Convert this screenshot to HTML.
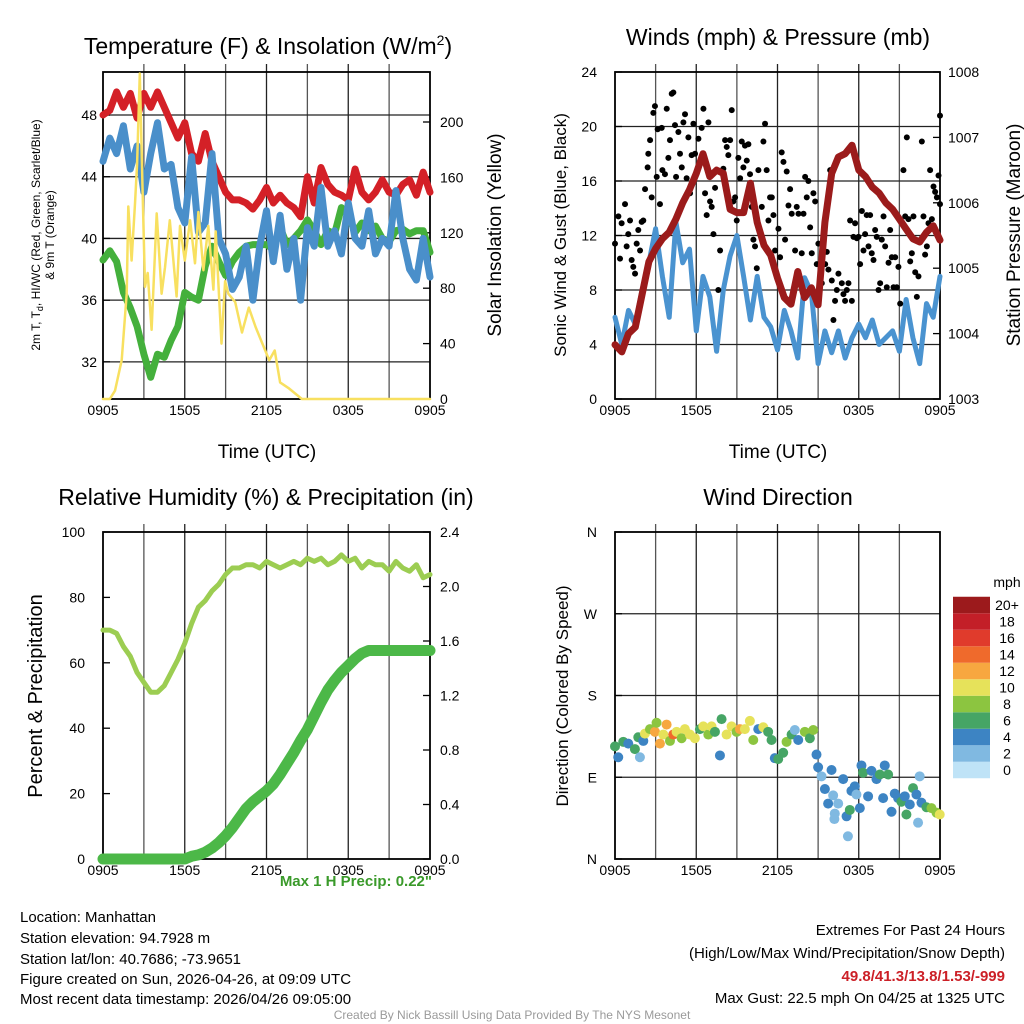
<!DOCTYPE html>
<html><head><meta charset="utf-8"><style>
html,body{margin:0;padding:0;background:#fff;}
svg{display:block;font-family:"Liberation Sans",sans-serif;}
</style></head><body>
<svg id="chart" width="1024" height="1024" viewBox="0 0 1024 1024" xmlns="http://www.w3.org/2000/svg">
<rect x="0" y="0" width="1024" height="1024" fill="#fff"/>
<text x="268" y="54" font-size="23" text-anchor="middle">Temperature (F) &amp; Insolation (W/m<tspan font-size="14" dy="-9">2</tspan><tspan dy="9">)</tspan></text>
<text x="778" y="45" font-size="23" text-anchor="middle">Winds (mph) &amp; Pressure (mb)</text>
<text x="266" y="505" font-size="23" text-anchor="middle">Relative Humidity (%) &amp; Precipitation (in)</text>
<text x="778" y="505" font-size="23" text-anchor="middle">Wind Direction</text>
<text x="267" y="458" font-size="19" text-anchor="middle">Time (UTC)</text>
<text x="778" y="458" font-size="19" text-anchor="middle">Time (UTC)</text>
<text transform="translate(40,235) rotate(-90)" font-size="12" text-anchor="middle">2m T, T<tspan font-size="9" dy="3">d</tspan><tspan dy="-3">, HI/WC (Red, Green, Scarlet/Blue)</tspan></text>
<text transform="translate(54,235) rotate(-90)" font-size="12" text-anchor="middle">&amp; 9m T (Orange)</text>
<text transform="translate(501,235) rotate(-90)" font-size="19" text-anchor="middle">Solar Insolation (Yellow)</text>
<text transform="translate(566,235) rotate(-90)" font-size="17" text-anchor="middle">Sonic Wind &amp; Gust (Blue, Black)</text>
<text transform="translate(1020,235) rotate(-90)" font-size="19" text-anchor="middle">Station Pressure (Maroon)</text>
<text transform="translate(42,696) rotate(-90)" font-size="20" text-anchor="middle">Percent &amp; Precipitation</text>
<text transform="translate(568,696) rotate(-90)" font-size="17" text-anchor="middle">Direction (Colored By Speed)</text>
<text x="432" y="886" font-size="15" font-weight="bold" fill="#3a9a2a" text-anchor="end">Max 1 H Precip: 0.22"</text>
<g font-size="15">
<text x="20" y="922">Location: Manhattan</text>
<text x="20" y="943">Station elevation: 94.7928 m</text>
<text x="20" y="964">Station lat/lon: 40.7686; -73.9651</text>
<text x="20" y="984">Figure created on Sun, 2026-04-26, at 09:09 UTC</text>
<text x="20" y="1004">Most recent data timestamp: 2026/04/26 09:05:00</text>
</g>
<g font-size="15" text-anchor="end">
<text x="1005" y="935">Extremes For Past 24 Hours</text>
<text x="1005" y="958">(High/Low/Max Wind/Precipitation/Snow Depth)</text>
<text x="1005" y="981" fill="#cc2027" font-weight="bold">49.8/41.3/13.8/1.53/-999</text>
<text x="1005" y="1003">Max Gust: 22.5 mph On 04/25 at 1325 UTC</text>
</g>
<text x="512" y="1019" font-size="12" fill="#9a9a9a" text-anchor="middle">Created By Nick Bassill Using Data Provided By The NYS Mesonet</text>
<text x="1007" y="587" font-size="14" text-anchor="middle">mph</text>
</svg>
<script>
// ---- data ----
const halfHours = [0,0.5,1,1.5,2,2.5,3,3.5,4,4.5,5,5.5,6,6.5,7,7.5,8,8.5,9,9.5,10,10.5,11,11.5,12,12.5,13,13.5,14,14.5,15,15.5,16,16.5,17,17.5,18,18.5,19,19.5,20,20.5,21,21.5,22,22.5,23,23.5,24];
const xTickLabels = ['0905','1505','2105','0305','0905'];
const tempTicks = [32,36,40,44,48];
const insolTicks = [0,40,80,120,160,200];
const windTicks = [0,4,8,12,16,20,24];
const presTicks = [1003,1004,1005,1006,1007,1008];
const rhTicks = [0,20,40,60,80,100];
const precipTicks = ['0.0','0.4','0.8','1.2','1.6','2.0','2.4'];
const dirTicks = ['N','E','S','W','N'];
const redTemp = [48,48.3,49.5,48.5,49.4,47.8,49.4,48.5,49.5,48.5,47.5,46.5,47.5,45.5,45,46.8,45,44,43,42.5,42.5,42.3,41.9,42.5,43.3,42.3,42.8,42.3,42,41.4,44,42.3,44.6,43.5,43,42.8,42.5,44.5,43,42.5,43,43.8,43,42.8,43.5,43.8,42.8,44.3,43];
const greenDew = [38.6,39.2,38.5,36.5,35.5,34.3,32.5,31,32.5,32.3,33.4,34.3,36.5,36.2,36,38.2,39.5,38.5,37.6,38.5,39.1,39.5,39.6,39.6,39.6,39.3,40.7,39.6,40,40.5,41.2,40.5,39.6,40.5,40.3,42,41.5,40.4,41,40.5,40.8,40,39.8,40.5,40.6,40.3,40.5,40.5,39.1];
const blueChill = [45,46.5,45.5,47.3,44.5,46,43,45.5,47.5,44.5,44.8,42,41,45.3,40.4,41,45.5,40,39,36.7,37.5,39.5,36,39.5,41.8,38.5,41.5,38,40,36,40.7,39.5,43.3,39.5,40.5,39,42.3,40,39.5,41.8,39,40,39.5,43.1,40,38,37.3,40,37.5];
const insolHours = [0,0.5,0.88,1.37,1.74,1.86,2.1,2.35,2.5,2.7,2.9,3.08,3.28,3.57,3.94,4.3,4.55,4.9,5.4,5.65,6.0,6.39,6.75,7.0,7.37,7.73,8.1,8.27,8.7,8.96,9.2,9.7,10.2,10.7,11.2,11.7,12.2,12.6,13.0,13.6,14.6,24];
const insolValues = [0,0,6,28,76,139,100,141,170,235,153,81,91,50,134,76,95,129,74,125,100,129,98,135,93,125,79,121,40,85,76,70,48,66,52,40,28,35,12,8,0,0];
const windSpeed = [6,4,6.5,5.5,8,10,12.5,9,6,13,10,11,5,9,7.5,3.5,8,10.5,12,9,5.8,9,6,5.3,3.6,6.5,5,3,8.9,7.8,2.6,5,3.4,5,3,4.5,5.5,4.5,5.8,4,4.5,5,3.5,7.3,4.5,2.6,7,6,9];
const pressure = [1003.83,1003.72,1004.0,1004.1,1004.6,1005.1,1005.3,1005.45,1005.55,1005.75,1006.0,1006.2,1006.45,1006.75,1006.4,1006.5,1006.45,1005.9,1005.85,1005.85,1006.3,1005.7,1005.35,1005.2,1004.85,1004.55,1004.45,1004.95,1004.55,1004.7,1004.44,1005.7,1006.45,1006.7,1006.75,1006.88,1006.5,1006.4,1006.24,1006.15,1006.0,1005.9,1005.75,1005.6,1005.45,1005.4,1005.55,1005.65,1005.43];
const gustHours = [0,0.25,0.37,0.49,0.74,0.86,0.98,1.11,1.23,1.35,1.48,1.6,1.72,1.85,1.97,2.09,2.22,2.41,2.46,2.59,2.71,2.83,2.95,3.08,3.15,3.32,3.45,3.5,3.69,3.82,3.94,4.06,4.19,4.31,4.43,4.51,4.68,4.8,4.93,5.05,5.17,5.29,5.42,5.54,5.66,5.79,5.91,6.16,6.4,6.53,6.65,6.77,6.9,7.02,7.14,7.27,7.39,7.63,7.76,8.0,8.13,8.25,8.37,8.5,8.62,8.74,8.87,8.99,9.11,9.24,9.36,9.48,9.6,9.73,9.85,9.97,10.1,10.22,10.34,10.47,10.59,10.84,10.96,11.08,11.2,11.33,11.45,11.58,11.7,11.82,12.07,12.19,12.31,12.44,12.56,12.68,12.81,12.93,13.05,13.3,13.42,13.55,13.79,13.92,14.04,14.16,14.28,14.41,14.53,14.65,14.78,14.9,15.02,15.27,15.52,15.64,15.76,15.89,16.01,16.13,16.25,16.38,16.5,16.75,16.87,16.99,17.12,17.24,17.36,17.49,17.61,17.73,17.86,17.98,18.1,18.23,18.35,18.47,18.59,18.72,18.84,18.96,19.09,19.21,19.33,19.46,19.58,19.7,19.83,19.95,20.07,20.2,20.32,20.44,20.57,20.69,20.81,20.93,21.06,21.3,21.43,21.55,21.67,21.8,21.92,22.04,22.17,22.29,22.41,22.66,22.78,22.9,23.03,23.15,23.27,23.4,23.52,23.64,23.77,23.89,24.0,24.0];
const gustValues = [11.4,13.4,10.3,12.9,14.3,11.2,12.1,13.1,10.2,9.7,9.2,11.4,12.4,10.9,13.0,13.1,15.4,17.0,18.0,19.0,14.8,21.0,21.5,16.3,19.8,14.3,19.9,16.8,16.5,21.3,17.7,19.0,22.4,22.5,20.1,16.3,19.6,18.0,17.0,20.3,20.9,16.2,19.2,15.1,17.9,20.2,18.0,19.1,19.9,21.3,15.1,13.5,20.3,14.5,14.1,12.1,15.5,8.0,10.9,16.9,19.0,18.5,17.9,19.0,21.2,14.5,14.8,13.1,17.7,16.2,18.9,17.0,18.6,17.5,18.7,16.5,14.1,11.7,11.2,9.6,16.8,14.1,18.9,20.2,16.8,13.1,14.8,14.8,13.5,10.9,12.5,10.4,18.1,17.4,11.7,16.7,14.2,15.4,13.6,10.9,14.1,13.6,10.7,13.6,16.3,14.8,16.0,12.6,10.7,15.1,14.5,9.9,11.4,8.5,9.9,10.8,9.5,16.8,8.7,5.8,7.2,8.0,9.2,8.5,7.7,7.2,8.0,8.5,13.1,7.2,11.9,12.9,11.8,11.9,9.9,13.8,10.9,12.1,13.5,11.2,13.5,10.7,10.2,12.4,11.9,8.0,8.5,11.7,13.4,11.2,8.2,10.0,12.4,10.4,8.2,10.4,8.2,9.7,7.0,16.8,13.4,19.2,13.2,10.1,10.7,13.4,9.3,7.5,9.0,18.9,13.4,10.6,11.2,12.9,16.8,13.2,15.6,15.2,14.8,16.4,20.8,14.3];
const relHum = [70,70,69,65,62,57,54,51,51,53,57,61,66,72,77,79,82,84,87,89,89,90,90,89,91,90,89,90,91,90,92,91,92,90,91,93,91,92,89,91,90,90,88,91,89,88,90,86,87];
const precip = [0,0,0,0,0,0,0,0,0,0,0,0,0,0.02,0.03,0.05,0.08,0.12,0.17,0.23,0.3,0.37,0.42,0.46,0.5,0.55,0.62,0.7,0.78,0.87,0.95,1.05,1.15,1.24,1.31,1.37,1.42,1.47,1.51,1.53,1.53,1.53,1.53,1.53,1.53,1.53,1.53,1.53,1.53];
const dirHours = [0,0.24,0.61,0.98,1.47,1.72,1.84,2.09,2.21,2.58,2.95,3.07,3.32,3.57,3.81,4.06,4.3,4.55,4.92,5.16,5.53,5.9,6.27,6.52,6.89,7.13,7.38,7.75,7.87,8.24,8.61,8.98,9.22,9.59,9.96,10.21,10.58,10.95,11.31,11.56,11.8,12.05,12.42,12.67,13.04,13.28,13.53,14.02,14.39,14.64,14.88,15.0,15.25,15.5,15.74,15.99,16.11,16.23,16.48,16.85,17.1,17.34,17.46,17.71,17.83,18.08,18.2,18.32,18.69,18.94,19.31,19.56,19.8,19.92,20.17,20.42,20.66,20.91,21.15,21.4,21.52,21.77,22.01,22.26,22.38,22.5,22.63,23.0,23.37,23.74,23.98,17.2,16.2];
const dirDegrees = [124,112,129,127,121,134,112,130,138,143,140,150,127,137,148,130,137,140,133,143,137,133,143,146,137,146,140,114,154,137,146,140,143,143,152,131,143,145,140,131,111,110,117,129,137,142,131,140,133,142,115,101,91,77,61,98,70,50,61,88,47,54,75,80,71,56,103,95,69,97,88,93,67,103,93,52,72,67,63,69,49,60,78,71,40,91,62,57,56,51,49,25,44];
const dirSpeed = [6,4,6,4,6,7,2,4,10,8,12,8,12,10,12,8,15,10,8,10,10,10,6,10,8,10,6,4,6,10,10,8,12,10,10,8,4,10,7,6,4,6,7,8,6,3,4,8,6,8,4,4,2,4,4,4,2,2,2,4,4,6,4,4,2,4,4,6,4,4,4,6,4,4,6,4,4,4,6,4,7,4,6,4,2,2,4,7,8,8,10,2,2];
const speedLabels = ['0','2','4','6','8','10','12','14','16','18','20+'];
const speedColors = ['#bfe3f7','#80b9e1','#3d84c3','#46a565','#8cc540','#e6e25a','#f7a740','#ef6a2c','#e03b2c','#c31f28','#9c1a1c'];

// ---- helpers ----
const NS='http://www.w3.org/2000/svg';
const svg=document.getElementById('chart');
function mk(tag, attrs, parent){const e=document.createElementNS(NS,tag);for(const k in attrs)e.setAttribute(k,attrs[k]);(parent||svg).appendChild(e);return e;}
const P1={x0:103,x1:430,y0:72,y1:399}, P2={x0:615,x1:940,y0:72,y1:399}, P3={x0:103,x1:430,y0:532,y1:859}, P4={x0:615,x1:940,y0:532,y1:859};
function xs(P,t){return P.x0+t/24*(P.x1-P.x0);}
const yTemp=v=>115+(48-v)*15.43;
const yInsol=v=>399-v*55.4/40;
const yWind=v=>399-v*13.625;
const yPres=v=>399-(v-1003)*65.4;
const yRH=v=>859-v*3.27;
const yPrecip=v=>859-v/2.4*327;
const yDir=v=>859-v/360*327;

function frame(P,name,hGrid,labelsL,labelsR,lx,rx){
  const g=mk('g',{});
  
  
  for(let i=1;i<8;i++){const x=P.x0+i*(P.x1-P.x0)/8;
    const l=mk('line',{x1:x,x2:x,y1:P.y0-8,y2:P.y1,stroke:(i%2?'#555':'#222'),'stroke-width':1.3},g);
    
    }
  hGrid.forEach(y=>{const l=mk('line',{x1:P.x0,x2:P.x1,y1:y,y2:y,stroke:'#222','stroke-width':1.3},g);
    
    });
  const r=mk('rect',{x:P.x0,y:P.y0,width:P.x1-P.x0,height:P.y1-P.y0,fill:'none',stroke:'#000','stroke-width':1.8},g);
  
  
  xTickLabels.forEach((s,i)=>{const t=mk('text',{x:P.x0+i*(P.x1-P.x0)/4,y:P.y1+16,'font-size':14,'text-anchor':'middle'},g);t.textContent=s;
    
    });
  labelsL.forEach(([s,y])=>{const t=mk('text',{x:lx,y:y+5,'font-size':14,'text-anchor':'end'},g);t.textContent=s;
    
    
    const k=mk('line',{x1:P.x0,x2:P.x0+7,y1:y,y2:y,stroke:'#000','stroke-width':1.3},g);
    
    });
  labelsR.forEach(([s,y])=>{const t=mk('text',{x:rx,y:y+5,'font-size':14,'text-anchor':'start'},g);t.textContent=s;
    
    
    const k=mk('line',{x1:P.x1-7,x2:P.x1,y1:y,y2:y,stroke:'#000','stroke-width':1.3},g);
    
    });
}
function line(P,ts,vs,yf,color,w,name){
  const d=ts.map((t,i)=>(i?'L':'M')+xs(P,t).toFixed(1)+','+yf(vs[i]).toFixed(1)).join('');
  const p=mk('path',{d:d,fill:'none',stroke:color,'stroke-width':w,'stroke-linejoin':'round','stroke-linecap':'round'});
  
  
}

// panel 1
frame(P1,'temperature',tempTicks.map(yTemp),tempTicks.map(v=>[String(v),yTemp(v)]),insolTicks.map(v=>[String(v),yInsol(v)]),97,440);
line(P1,halfHours,greenDew,yTemp,'#44b03c',7,'dewpoint-line');
line(P1,halfHours,redTemp,yTemp,'#d42027',7,'temperature-line');
line(P1,halfHours,blueChill,yTemp,'#4a8fca',7,'wind-chill-line');
line(P1,insolHours,insolValues,yInsol,'#f8e060',2.5,'insolation-line');

// panel 2
frame(P2,'winds',windTicks.slice(1,6).map(yWind),windTicks.map(v=>[String(v),yWind(v)]),presTicks.map(v=>[String(v),yPres(v)]),597,948);
line(P2,halfHours,windSpeed,yWind,'#4a93d0',5,'wind-speed-line');
gustHours.forEach((t,i)=>{const c=mk('circle',{cx:xs(P2,t),cy:yWind(gustValues[i]),r:3,fill:'#000'});
  
  });
line(P2,halfHours,pressure,yPres,'#9b1b1b',7,'pressure-line');

// panel 3
frame(P3,'humidity',[],rhTicks.map(v=>[String(v),yRH(v)]),precipTicks.map(v=>[v,yPrecip(+v)]),85,440);
line(P3,halfHours,relHum,yRH,'#9ccd52',5,'humidity-line');
line(P3,halfHours,precip,yPrecip,'#4cb848',11,'precipitation-line');

// panel 4
frame(P4,'wind-direction',[90,180,270].map(yDir),dirTicks.map((s,i)=>[s,yDir(i*90)]),[],597,948);
dirHours.forEach((t,i)=>{const idx=Math.min(10,Math.floor(dirSpeed[i]/2));
  const c=mk('circle',{cx:xs(P4,t),cy:yDir(dirDegrees[i]),r:5,fill:speedColors[idx]});
  
  });

// colorbar
speedLabels.forEach((s,i)=>{const yc=770-i*16.5;
  const r=mk('rect',{x:953,y:yc-8.25,width:37,height:16.5,fill:speedColors[i]});
  
  
  const t=mk('text',{x:1007,y:yc+5,'font-size':14,'text-anchor':'middle'});t.textContent=s;
  
  });
</script>
</body></html>
